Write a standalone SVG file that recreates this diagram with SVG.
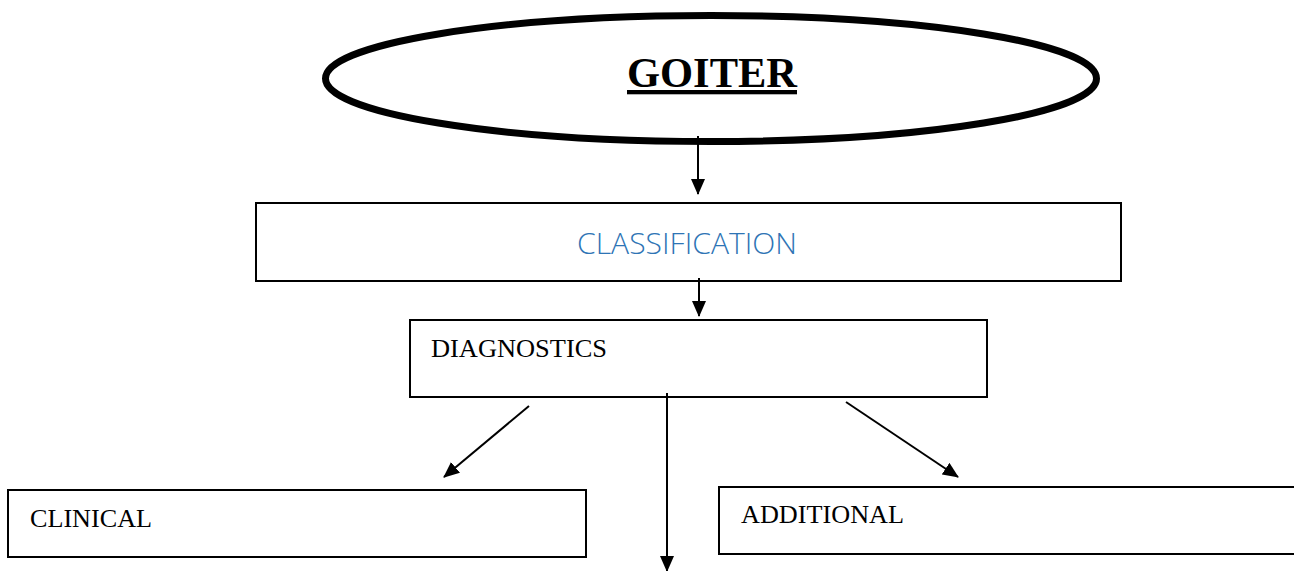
<svg xmlns="http://www.w3.org/2000/svg" width="1294" height="571" viewBox="0 0 1294 571">
  <style>
    .box { fill: #ffffff; stroke: #000000; stroke-width: 2; }
    .lbl { font-family: "Liberation Serif", "Times New Roman", serif; font-size: 26px; fill: #000000; }
    .conn { stroke: #000000; stroke-width: 2; fill: none; marker-end: url(#arrow); }
  </style>
  <defs>
    <marker id="arrow" viewBox="0 0 16 14" refX="15" refY="7" markerWidth="16" markerHeight="14" markerUnits="userSpaceOnUse" orient="auto">
      <path d="M0,0 L16,7 L0,14 Z" fill="#000000"/>
    </marker>
  </defs>
  <rect width="1294" height="571" fill="#ffffff"/>

  <g id="goiter">
    <ellipse cx="711" cy="78.5" rx="385.5" ry="63" fill="#ffffff" stroke="#000000" stroke-width="7"/>
    <text x="712" y="87" text-anchor="middle" font-family="Liberation Serif, Times New Roman, serif" font-weight="bold" font-size="43" text-decoration="underline" style="text-decoration-thickness:4px" textLength="170" lengthAdjust="spacingAndGlyphs">GOITER</text>
  </g>

  <g id="classification">
    <rect class="box" x="256" y="203" width="865" height="78"/>
    <text x="687" y="254" text-anchor="middle" font-family="Open Sans, Liberation Sans, sans-serif" font-weight="300" font-size="29" fill="#2E74B5" textLength="220" lengthAdjust="spacingAndGlyphs">CLASSIFICATION</text>
  </g>

  <g id="diagnostics">
    <rect class="box" x="410" y="320" width="577" height="77"/>
    <text class="lbl" x="431" y="357" textLength="176" lengthAdjust="spacingAndGlyphs">DIAGNOSTICS</text>
  </g>

  <g id="clinical">
    <rect class="box" x="8" y="490" width="578" height="67"/>
    <text class="lbl" x="30" y="527" textLength="122" lengthAdjust="spacingAndGlyphs">CLINICAL</text>
  </g>

  <g id="additional">
    <rect class="box" x="719" y="487" width="590" height="67"/>
    <text class="lbl" x="741" y="523" textLength="163" lengthAdjust="spacingAndGlyphs">ADDITIONAL</text>
  </g>

  <g id="connectors">
    <line class="conn" x1="698" y1="136" x2="698" y2="194"/>
    <line class="conn" x1="699" y1="278" x2="699" y2="316"/>
    <line class="conn" x1="529" y1="406" x2="444" y2="477"/>
    <line class="conn" x1="846" y1="402" x2="958" y2="477"/>
    <line class="conn" x1="667" y1="393" x2="667" y2="571"/>
  </g>
</svg>
